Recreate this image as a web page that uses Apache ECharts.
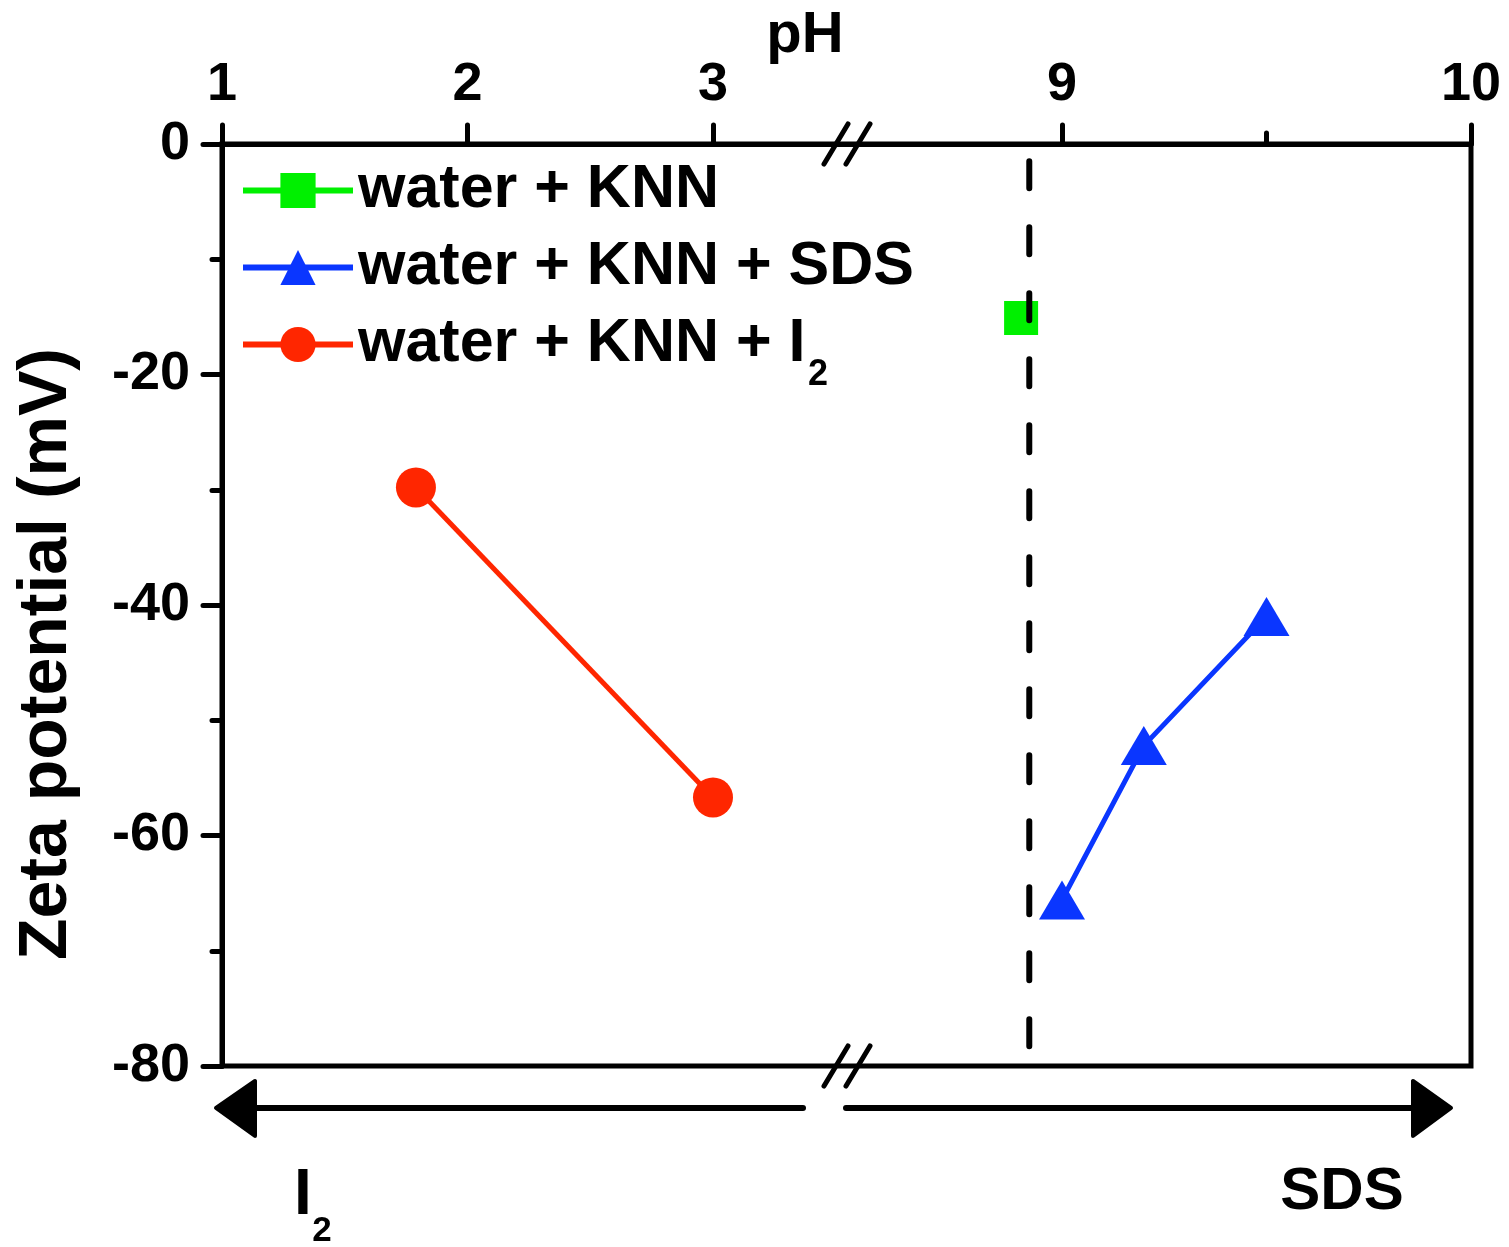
<!DOCTYPE html>
<html><head><meta charset="utf-8">
<script src="https://cdn.jsdelivr.net/npm/echarts@6/dist/echarts.min.js"></script>
<style>html,body{margin:0;padding:0;background:#fff}#c{width:1509px;height:1247px}</style>
</head><body><div id="c"></div>
<script>
const FONT = '"Liberation Sans", Arial, sans-serif';
// ---- data ----
const seriesNames = ['water + KNN', 'water + KNN + SDS', 'water + KNN + I'];
const knnPH = [8.9];
const knnZeta = [-15.1];
const sdsPH = [9.0, 9.2, 9.5];
const sdsZeta = [-65.6, -52.2, -41.0];
const i2PH = [1.79, 3.0];
const i2Zeta = [-29.8, -56.7];
const refLinePH = [8.92, 8.92];
const refLineZeta = [-1.5, -78.3];
const xTickPH = [1, 2, 3, 9, 10];
const xMinorTickPH = [9.5];
const yMin = -80, yMax = 0, yStep = 20;

// ---- broken pH axis: piecewise map onto one linear value axis ----
const LEFT_UNIT = 245.5, RIGHT_UNIT = 409, RIGHT_START = 840, X_MAX = 1249, BREAK_AT = 625;
function xv(ph) { return ph < 6 ? (ph - 1) * LEFT_UNIT : RIGHT_START + (ph - 9) * RIGHT_UNIT; }
function pts(xs, ys) { return xs.map((x, i) => [xv(x), ys[i]]); }

const chart = echarts.init(document.getElementById('c'), null, {renderer: 'canvas'});
const black = '#000';
const tickFont = {color: black, fontSize: 54, fontWeight: 'bold', fontFamily: FONT};

const option = {
  backgroundColor: '#fff',
  animation: false,
  grid: {left: 222, top: 144, width: 1249, height: 922, show: true, borderColor: black, borderWidth: 5,
         containLabel: false, outerBoundsMode: 'none'},
  xAxis: [{
    type: 'value', position: 'top', min: 0, max: X_MAX,
    axisLine: {show: true, onZero: false, lineStyle: {color: black, width: 5}},
    axisTick: {show: true, inside: false, length: 19, customValues: xTickPH.map(xv),
               lineStyle: {color: black, width: 5, cap: 'round'}},
    axisLabel: Object.assign({show: true, margin: 32, customValues: xTickPH.map(xv),
      formatter: function (v) {
        for (let i = 0; i < xTickPH.length; i++) if (Math.abs(xv(xTickPH[i]) - v) < 0.5) return String(xTickPH[i]);
        return '';
      }}, tickFont),
    splitLine: {show: false}
  }, {
    type: 'value', position: 'top', min: 0, max: X_MAX,
    axisLine: {show: false, onZero: false},
    axisTick: {show: true, inside: false, length: 11, customValues: xMinorTickPH.map(xv),
               lineStyle: {color: black, width: 5, cap: 'round'}},
    axisLabel: {show: false},
    splitLine: {show: false}
  }],
  yAxis: [{
    type: 'value', min: yMin, max: yMax, interval: yStep, position: 'left',
    name: 'Zeta potential (mV)', nameLocation: 'middle', nameGap: 141, nameRotate: 90,
    nameTextStyle: {color: black, fontSize: 68, fontWeight: 'bold', fontFamily: FONT, padding: [0, 98, 0, 0]},
    axisLine: {show: true, onZero: false, lineStyle: {color: black, width: 5}},
    axisTick: {show: true, inside: false, length: 19, lineStyle: {color: black, width: 5, cap: 'round'}},
    minorTick: {show: true, splitNumber: 2, length: 10, lineStyle: {color: black, width: 5, cap: 'round'}},
    axisLabel: Object.assign({margin: 32}, tickFont),
    splitLine: {show: false}
  }],
  legend: {
    data: seriesNames, orient: 'vertical', left: 240, top: 160, padding: 0,
    itemWidth: 110, itemHeight: 44, itemGap: 16, selectedMode: false,
    lineStyle: {width: 6},
    textStyle: {color: black, fontSize: 61, lineHeight: 60, fontWeight: 'bold', fontFamily: FONT}
  },
  series: [{
    name: seriesNames[0], type: 'line', data: pts(knnPH, knnZeta),
    symbol: 'rect', symbolSize: 34, itemStyle: {color: '#00f000'},
    lineStyle: {color: '#00f000', width: 5}, z: 3
  }, {
    name: seriesNames[1], type: 'line', data: pts(sdsPH, sdsZeta),
    symbol: 'triangle', symbolSize: [46, 39], itemStyle: {color: '#0a36ff'},
    lineStyle: {color: '#0a36ff', width: 5}, z: 3
  }, {
    name: seriesNames[2], type: 'line', data: pts(i2PH, i2Zeta),
    symbol: 'circle', symbolSize: 40, itemStyle: {color: '#ff2600'},
    lineStyle: {color: '#ff2600', width: 5}, z: 3
  }, {
    name: 'reference', type: 'line', data: pts(refLinePH, refLineZeta), symbol: 'none', silent: true,
    lineStyle: {color: black, width: 6, type: [27, 39], cap: 'round'}, z: 5
  }]
};
chart.setOption(option);

// ---- decorations positioned from the axes ----
const bx = chart.convertToPixel({xAxisIndex: 0}, BREAK_AT);
const xL = chart.convertToPixel({xAxisIndex: 0}, 0);
const xR = chart.convertToPixel({xAxisIndex: 0}, X_MAX);
const yTop = chart.convertToPixel({yAxisIndex: 0}, yMax);
const yBot = chart.convertToPixel({yAxisIndex: 0}, yMin);
const ay = yBot + 42;
const g = [];
[yTop, yBot].forEach(function (y) {
  [-11, 11].forEach(function (dx) {
    g.push({type: 'line', z: 100, shape: {x1: bx + dx - 12, y1: y + 20, x2: bx + dx + 12, y2: y - 20},
            style: {stroke: black, lineWidth: 5, lineCap: 'round'}});
  });
});
g.push({type: 'line', z: 100, shape: {x1: xL + 30, y1: ay, x2: bx - 44, y2: ay},
        style: {stroke: black, lineWidth: 6, lineCap: 'round'}});
g.push({type: 'polygon', z: 100, shape: {points: [[xL - 6, ay], [xL + 33, ay - 27], [xL + 33, ay + 28]]},
        style: {fill: black, stroke: black, lineWidth: 4, lineJoin: 'round'}});
g.push({type: 'line', z: 100, shape: {x1: bx - 1, y1: ay, x2: xR - 55, y2: ay},
        style: {stroke: black, lineWidth: 6, lineCap: 'round'}});
g.push({type: 'polygon', z: 100, shape: {points: [[xR - 58, ay - 27], [xR - 58, ay + 28], [xR - 20, ay]]},
        style: {fill: black, stroke: black, lineWidth: 4, lineJoin: 'round'}});
const txt = function (t, x, y, size) {
  return {type: 'text', z: 100, x: x, y: y,
    style: {text: t, fill: black, font: 'bold ' + size + 'px ' + FONT, textAlign: 'center', textVerticalAlign: 'middle'}};
};
g.push(txt('pH', 805, 36, 58));
g.push(txt('2', 818, 375, 36));          // subscript of the legend's "I2"
g.push(txt('I', 303, 1196, 64));
g.push(txt('2', 322, 1231, 35));
g.push(txt('SDS', 1342, 1192, 60));
chart.setOption({graphic: g});
</script>
</body></html>
